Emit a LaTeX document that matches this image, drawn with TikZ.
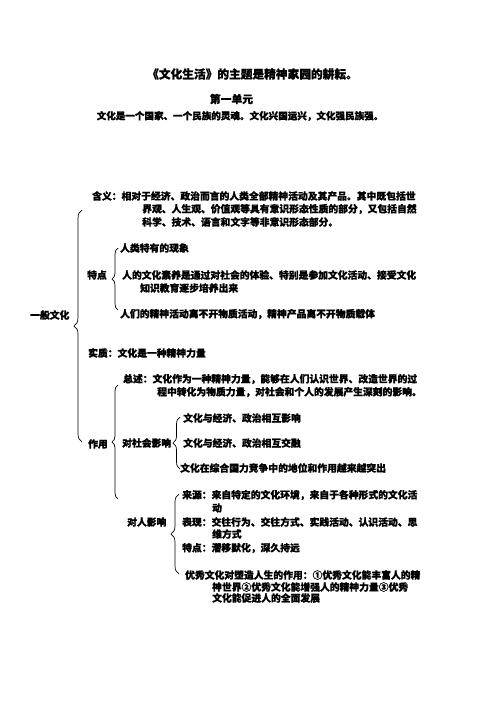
\documentclass[tikz,border=0pt]{standalone}
\usepackage{fontspec}
\setmainfont{Noto Sans CJK SC}[BoldFeatures={FakeBold=1}]
\usetikzlibrary{decorations.pathreplacing}
\begin{document}
\begin{tikzpicture}[x=1pt,y=-1pt,
  txt/.style={anchor=west,inner sep=0pt,font=\fontsize{9.8}{12}\selectfont\bfseries},
  brc/.style={decorate,decoration={brace,amplitude=#1},line width=0.7pt},
  brc/.default=7pt]
\useasboundingbox (0,0) rectangle (496,702);
% headings
\node[inner sep=0pt,font=\fontsize{11.7}{14}\selectfont\bfseries] (title) at (252.5,74) {《文化生活》的主题是精神家园的耕耘。};
\node[inner sep=0pt,font=\fontsize{10.8}{13}\selectfont\bfseries] (unit) at (231.5,99) {第一单元};
\node[inner sep=0pt,font=\fontsize{9.55}{12}\selectfont\bfseries] (motto) at (240,116) {文化是一个国家、一个民族的灵魂。文化兴国运兴，文化强民族强。};
% level 1
\node[txt] (yiban) at (30,315) {一般文化};
% level 2
\node[txt] (han1) at (92,196) {含义：相对于经济、政治而言的人类全部精神活动及其产品。其中既包括世};
\node[txt] (han2) at (142,209) {界观、人生观、价值观等具有意识形态性质的部分，又包括自然};
\node[txt] (han3) at (142,222) {科学、技术、语言和文字等非意识形态部分。};
\node[txt] (tedian) at (87,275) {特点};
\node[txt] (shizhi) at (88,353) {实质：文化是一种精神力量};
\node[txt] (zuoyong) at (88,444) {作用};
% 特点 children
\node[txt] (td1) at (120,248) {人类特有的现象};
\node[txt] (td2) at (122,275) {人的文化素养是通过对社会的体验、特别是参加文化活动、接受文化};
\node[txt] (td2b) at (140,288) {知识教育逐步培养出来};
\node[txt] (td3) at (120,314) {人们的精神活动离不开物质活动，精神产品离不开物质载体};
% 作用 children
\node[txt] (zs1) at (123,379) {总述：文化作为一种精神力量，能够在人们认识世界、改造世界的过};
\node[txt] (zs2) at (157,392) {程中转化为物质力量，对社会和个人的发展产生深刻的影响。};
\node[txt] (shehui) at (122,443) {对社会影响};
\node[txt] (geren) at (127,522) {对人影响};
% 对社会影响 children
\node[txt] (sh1) at (183,418) {文化与经济、政治相互影响};
\node[txt] (sh2) at (183,443) {文化与经济、政治相互交融};
\node[txt] (sh3) at (180,468) {文化在综合国力竞争中的地位和作用越来越突出};
% 对人影响 children
\node[txt] (gr1) at (182,495) {来源：来自特定的文化环境，来自于各种形式的文化活};
\node[txt] (gr1b) at (212,508) {动};
\node[txt] (gr2) at (182,522) {表现：交往行为、交往方式、实践活动、认识活动、思};
\node[txt] (gr2b) at (212,534) {维方式};
\node[txt] (gr3) at (182,548) {特点：潜移默化，深久持远};
\node[txt] (gr4) at (185,575) {优秀文化对塑造人生的作用：①优秀文化能丰富人的精};
\node[txt] (gr4b) at (212,587) {神世界②优秀文化能增强人的精神力量③优秀};
\node[txt] (gr4c) at (212,598) {文化能促进人的全面发展};
% braces
\coordinate (b1t) at (82,210);  \coordinate (b1b) at (82,442);
\coordinate (b2t) at (118,248); \coordinate (b2b) at (118,310);
\coordinate (b3t) at (118,385); \coordinate (b3b) at (118,499);
\coordinate (b4t) at (180,417); \coordinate (b4b) at (180,469);
\coordinate (b5t) at (179,494); \coordinate (b5b) at (179,574);
\draw[brc=8pt] (b1b) -- (b1t);
\draw[brc=6pt] (b2b) -- (b2t);
\draw[brc=6pt] (b3b) -- (b3t);
\draw[brc=7pt] (b4b) -- (b4t);
\draw[brc=8pt] (b5b) -- (b5t);
\end{tikzpicture}
\end{document}
